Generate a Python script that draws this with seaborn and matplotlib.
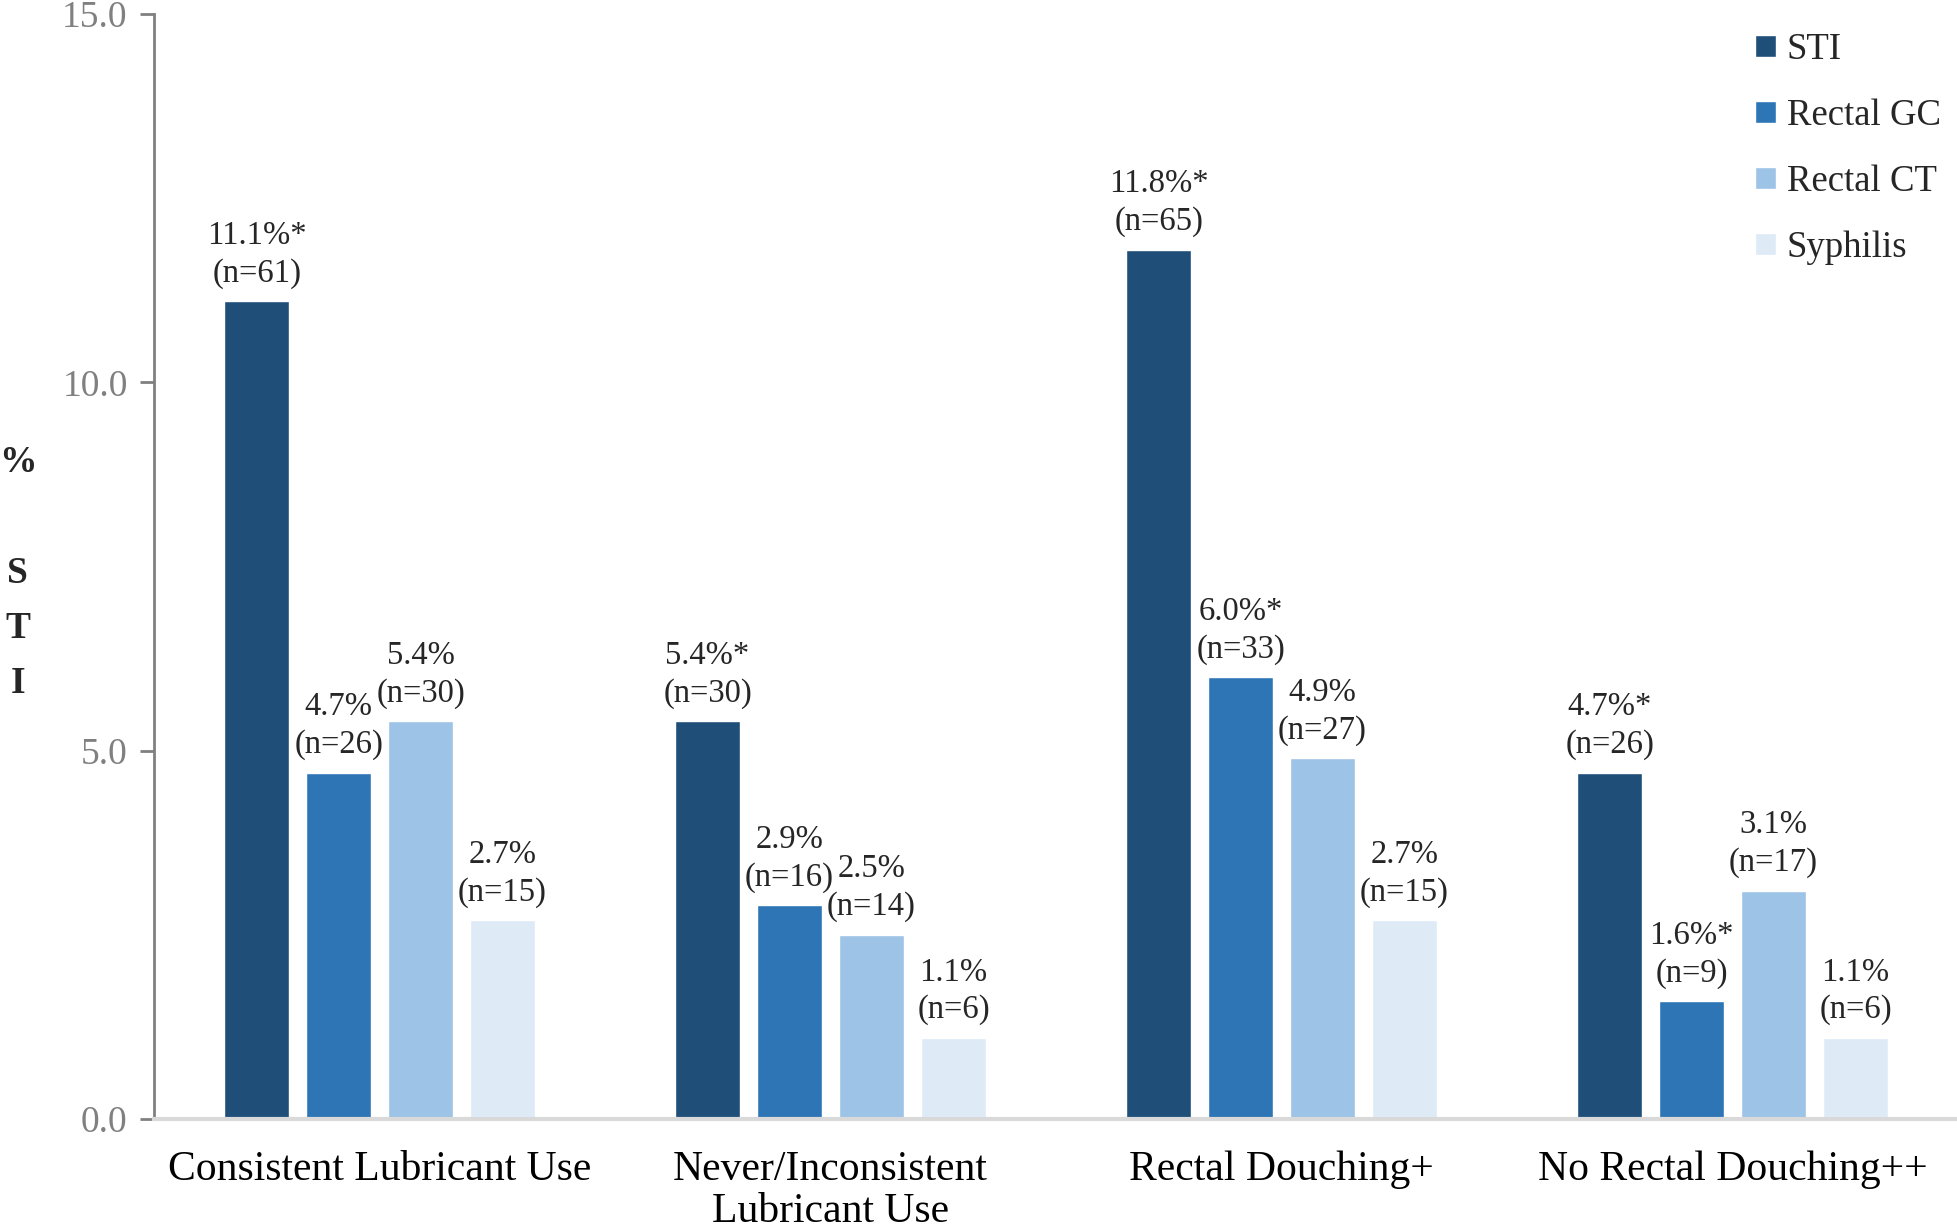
import pandas as pd
import matplotlib.pyplot as plt
import seaborn as sns

# Data
categories = ["Consistent Lubricant Use", "Never/Inconsistent\nLubricant Use",
              "Rectal Douching+", "No Rectal Douching++"]
series = ["STI", "Rectal GC", "Rectal CT", "Syphilis"]
sti = [11.1, 5.4, 11.8, 4.7]
rectal_gc = [4.7, 2.9, 6.0, 1.6]
rectal_ct = [5.4, 2.5, 4.9, 3.1]
syphilis = [2.7, 1.1, 2.7, 1.1]
n_sti = [61, 30, 65, 26]
n_gc = [26, 16, 33, 9]
n_ct = [30, 14, 27, 17]
n_syph = [15, 6, 15, 6]
star_sti = [True, True, True, True]
star_gc = [False, False, True, True]
star_ct = [False, False, False, False]
star_syph = [False, False, False, False]
colors = ["#1F4E79", "#2E75B6", "#9DC3E6", "#DEEBF7"]

values = [sti, rectal_gc, rectal_ct, syphilis]
counts = [n_sti, n_gc, n_ct, n_syph]
stars = [star_sti, star_gc, star_ct, star_syph]

rows = []
for s, vals in zip(series, values):
    for c, v in zip(categories, vals):
        rows.append({"group": c, "series": s, "pct": v})
df = pd.DataFrame(rows)

sns.set_style("white")
plt.rcParams['font.family'] = ['Liberation Serif', 'DejaVu Serif']

fig = plt.figure(figsize=(19.58, 12.31), dpi=100)
ax = fig.add_axes([0.0787, 0.091, 0.9213, 0.8976])

sns.barplot(data=df, x="group", y="pct", hue="series", hue_order=series,
            palette=colors, width=0.727, gap=0.21, ax=ax, saturation=1)

for cont, vals, ns, st in zip(ax.containers, values, counts, stars):
    labels = [f"{v:.1f}%{'*' if s else ''}\n(n={n})" for v, n, s in zip(vals, ns, st)]
    for bar, lab in zip(cont, labels):
        ax.annotate(lab, (bar.get_x() + bar.get_width() / 2, bar.get_height()),
                    xytext=(0, 9), textcoords="offset points",
                    ha="center", va="bottom", fontsize=23.5, linespacing=1.3)

ax.set_ylim(0, 15)
ax.set_xlim(-0.5, 3.5)
ax.set_yticks([0, 5, 10, 15])
ax.set_yticklabels(["0.0", "5.0", "10.0", "15.0"])
ax.tick_params(axis="y", colors="#808080", labelsize=27, length=10, width=2,
               direction="out", left=True, pad=9)
ax.tick_params(axis="x", length=0, labelsize=30, pad=23, labelcolor="black")
for t in ax.get_xticklabels():
    t.set_linespacing(1.12)

for side in ["top", "right"]:
    ax.spines[side].set_visible(False)
ax.spines["left"].set_color("#808080")
ax.spines["left"].set_linewidth(2)
ax.spines["bottom"].set_color("#D9D9D9")
ax.spines["bottom"].set_linewidth(3)

ax.set_xlabel("")
ax.set_ylabel("%\n\nS\nT\nI", rotation=0, fontsize=27, fontweight="bold",
              linespacing=1.75, va="center", ha="center", labelpad=0)
ax.yaxis.set_label_coords(-0.0755, 0.494)

leg = ax.legend(loc="upper left", bbox_to_anchor=(1737 / 1958, 1 - 14 / 1231),
                bbox_transform=fig.transFigure, frameon=False, fontsize=26.5,
                handlelength=0.55, handleheight=0.55, handletextpad=0.3,
                labelspacing=0.86, borderpad=0)

fig.savefig("out.png", dpi=100)
